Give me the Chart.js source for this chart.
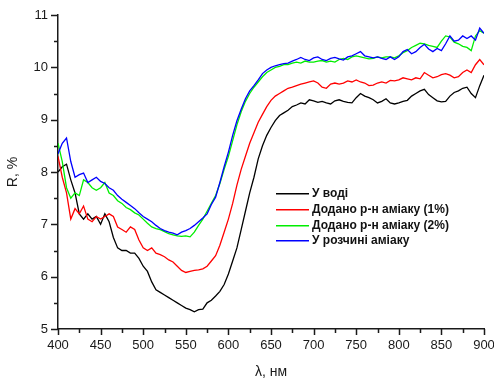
<!DOCTYPE html>
<html lang="uk">
<head>
    <meta charset="UTF-8">
    <title>Спектри відбиття</title>
    <script src="https://cdn.jsdelivr.net/npm/chart.js"></script>
    <style>
        html, body {
            margin: 0;
            padding: 0;
            background: #fff;
        }
        #wrap {
            width: 494px;
            height: 378px;
        }
    </style>
</head>
<body>
    <div id="wrap"><canvas id="spectra" width="494" height="378"></canvas></div>

    <script>
        // wavelength grid, nm
        const wavelengths = [
            400, 405, 410, 415, 420, 425, 430, 435, 440, 445,
            450, 455, 460, 465, 470, 475, 480, 485, 490, 495,
            500, 505, 510, 515, 520, 525, 530, 535, 540, 545,
            550, 555, 560, 565, 570, 575, 580, 585, 590, 595,
            600, 605, 610, 615, 620, 625, 630, 635, 640, 645,
            650, 655, 660, 665, 670, 675, 680, 685, 690, 695,
            700, 705, 710, 715, 720, 725, 730, 735, 740, 745,
            750, 755, 760, 765, 770, 775, 780, 785, 790, 795,
            800, 805, 810, 815, 820, 825, 830, 835, 840, 845,
            850, 855, 860, 865, 870, 875, 880, 885, 890, 895,
            900
        ];

        // R, %
        const inWater = [
            8.0, 8.1, 8.15, 7.85, 7.6, 7.2, 7.1, 7.2, 7.1, 7.15,
            7.0, 7.2, 7.05, 6.75, 6.55, 6.5, 6.5, 6.45, 6.45, 6.35,
            6.2, 6.1, 5.9, 5.75, 5.7, 5.65, 5.6, 5.55, 5.5, 5.45,
            5.4, 5.37, 5.33, 5.37, 5.38, 5.5, 5.55, 5.63, 5.72, 5.85,
            6.05, 6.3, 6.55, 6.9, 7.25, 7.6, 7.9, 8.25, 8.5, 8.7,
            8.85, 8.98, 9.08, 9.13, 9.18, 9.25, 9.28, 9.32, 9.3, 9.38,
            9.36, 9.33, 9.35, 9.32, 9.3, 9.36, 9.38, 9.35, 9.33, 9.32,
            9.42, 9.5, 9.45, 9.42, 9.38, 9.32, 9.35, 9.4, 9.32, 9.3,
            9.32, 9.35, 9.37, 9.45, 9.5, 9.55, 9.58, 9.48, 9.42, 9.36,
            9.34, 9.35, 9.45, 9.52, 9.55, 9.6, 9.62, 9.5, 9.42, 9.65,
            9.85
        ];
        const ammonia1 = [
            8.3, 7.9, 7.6, 7.1, 7.3, 7.2, 7.35, 7.1, 7.05, 7.15,
            7.1, 7.15, 7.2, 7.15, 6.95, 6.9, 6.85, 6.95, 6.9, 6.7,
            6.55, 6.5, 6.55, 6.45, 6.42, 6.38, 6.32, 6.28, 6.2, 6.12,
            6.08, 6.1, 6.12, 6.13, 6.15, 6.2, 6.3, 6.4, 6.6, 6.85,
            7.1, 7.4, 7.75, 8.05, 8.3, 8.55, 8.75, 8.95, 9.1, 9.25,
            9.37, 9.45, 9.5, 9.55, 9.6, 9.62, 9.65, 9.68, 9.7, 9.72,
            9.74, 9.7, 9.62, 9.6, 9.68, 9.7, 9.68, 9.7, 9.74, 9.72,
            9.76, 9.72, 9.7, 9.65, 9.66, 9.7, 9.72, 9.7, 9.75, 9.74,
            9.76, 9.8, 9.78, 9.76, 9.8, 9.78, 9.9, 9.85, 9.8, 9.82,
            9.86, 9.88, 9.85, 9.8, 9.82, 9.9, 9.95, 9.9, 10.05, 10.15,
            10.05
        ];
        const ammonia2 = [
            8.55, 8.2, 7.7, 7.5, 7.6, 7.55, 7.85, 7.8, 7.7, 7.65,
            7.7, 7.8, 7.6, 7.55, 7.45, 7.4, 7.32, 7.28, 7.22, 7.18,
            7.1, 7.02, 6.95, 6.92, 6.9, 6.86, 6.82, 6.8, 6.78, 6.77,
            6.78, 6.76, 6.85, 6.98, 7.1, 7.25, 7.4, 7.55, 7.78, 8.05,
            8.3, 8.6, 8.9, 9.15, 9.35, 9.5, 9.62, 9.72, 9.82, 9.9,
            9.95, 10.0, 10.02, 10.05, 10.05, 10.08, 10.1, 10.08, 10.12, 10.1,
            10.1, 10.12, 10.13, 10.1, 10.12, 10.1, 10.15, 10.17, 10.15, 10.2,
            10.22, 10.2, 10.18, 10.16, 10.17, 10.2, 10.18, 10.2, 10.2, 10.18,
            10.22, 10.28, 10.32, 10.38, 10.42, 10.46, 10.45, 10.42, 10.4, 10.38,
            10.5, 10.6, 10.58, 10.48, 10.45, 10.4, 10.38, 10.32, 10.6, 10.7,
            10.65
        ];
        const inSolution = [
            8.35, 8.55, 8.65, 8.2, 7.9, 7.95, 7.98, 7.8, 7.85, 7.9,
            7.82, 7.78, 7.7, 7.65, 7.55, 7.48, 7.42, 7.36, 7.3, 7.22,
            7.15, 7.1, 7.05, 6.98, 6.92, 6.88, 6.85, 6.83, 6.8, 6.85,
            6.88, 6.92, 6.98, 7.05, 7.12, 7.2, 7.38, 7.52, 7.8, 8.1,
            8.38, 8.7, 8.98, 9.2, 9.4, 9.55, 9.65, 9.76, 9.88, 9.95,
            10.0, 10.03, 10.05, 10.07, 10.08, 10.12, 10.15, 10.19, 10.15, 10.13,
            10.18, 10.2, 10.15, 10.13, 10.17, 10.19, 10.16, 10.14, 10.2, 10.22,
            10.26, 10.3, 10.22, 10.2, 10.18, 10.2, 10.17, 10.15, 10.2, 10.15,
            10.2, 10.3, 10.34, 10.26, 10.3, 10.38, 10.44, 10.35, 10.3, 10.36,
            10.32, 10.45, 10.6, 10.5, 10.52, 10.6, 10.55, 10.6, 10.52, 10.75,
            10.65
        ];

        const seriesNames = ['У воді', 'Додано р-н аміаку (1%)', 'Додано р-н аміаку (2%)', 'У розчині аміаку'];
        const seriesColors = ['#000000', '#ff0000', '#00ee00', '#0000ff'];
        const seriesValues = [inWater, ammonia1, ammonia2, inSolution];

        const FONT = 'Arial, "Liberation Sans", sans-serif';
        const AXIS = '#1a1a1a';

        // outward major + minor ticks (Chart.js has no minor ticks)
        const axisTicks = {
            id: 'axisTicks',
            afterDraw(chart) {
                const { ctx, scales: { x, y } } = chart;
                ctx.save();
                ctx.strokeStyle = AXIS;
                ctx.lineWidth = 1.5;
                ctx.beginPath();
                for (let v = x.min; v <= x.max; v += 25) {
                    const px = Math.round(x.getPixelForValue(v)) + 0.5;
                    const len = v % 50 === 0 ? 6 : 4;
                    ctx.moveTo(px, x.top);
                    ctx.lineTo(px, x.top + len);
                }
                for (let v = y.min; v <= y.max; v += 0.5) {
                    const py = Math.round(y.getPixelForValue(v)) + 0.5;
                    const len = v % 1 === 0 ? 7 : 4;
                    ctx.moveTo(y.right, py);
                    ctx.lineTo(y.right - len, py);
                }
                ctx.stroke();
                ctx.restore();
            }
        };

        // legend box inside the plot
        const innerLegend = {
            id: 'innerLegend',
            afterDraw(chart) {
                const ctx = chart.ctx;
                const x0 = 276, tx = 312;
                const rows = [193, 209, 225, 240];
                ctx.save();
                ctx.font = 'bold 12px ' + FONT;
                ctx.textBaseline = 'middle';
                seriesNames.forEach((name, i) => {
                    ctx.fillStyle = seriesColors[i];
                    ctx.fillRect(x0, rows[i], 33, 1.5);
                    ctx.fillStyle = '#111';
                    ctx.fillText(name, tx, rows[i] + 1);
                });
                ctx.restore();
            }
        };

        // drop the label-overflow padding so the axes land where the original has them
        function noOverflow(scale) {
            scale.paddingLeft = 0;
            scale.paddingRight = 0;
            scale.paddingTop = 0;
            scale.paddingBottom = 0;
        }

        const datasets = seriesValues.map((vals, i) => ({
            label: seriesNames[i],
            data: wavelengths.map((w, j) => ({ x: w, y: vals[j] })),
            borderColor: seriesColors[i],
            borderWidth: 1.3,
            pointRadius: 0,
            tension: 0,
            fill: false,
            order: 3 - i
        }));

        new Chart(document.getElementById('spectra').getContext('2d'), {
            type: 'line',
            data: { datasets: datasets },
            options: {
                responsive: false,
                animation: false,
                events: [],
                layout: {
                    padding: { top: 15, right: 10, left: 0, bottom: 0 }
                },
                plugins: {
                    legend: { display: false },
                    tooltip: { enabled: false }
                },
                scales: {
                    x: {
                        type: 'linear',
                        min: 400,
                        max: 900,
                        ticks: {
                            stepSize: 50,
                            color: AXIS,
                            padding: 9,
                            maxRotation: 0,
                            font: { family: FONT, size: 13 }
                        },
                        grid: { drawOnChartArea: false, drawTicks: false },
                        border: { color: AXIS, width: 1.5 },
                        title: {
                            display: true,
                            text: 'λ, нм',
                            color: AXIS,
                            font: { family: FONT, size: 14 },
                            padding: { top: 0, bottom: -3 }
                        },
                        afterFit: scale => {
                            scale.height = 49;
                            noOverflow(scale);
                        }
                    },
                    y: {
                        min: 5,
                        max: 11,
                        ticks: {
                            stepSize: 1,
                            color: AXIS,
                            padding: 10,
                            font: { family: FONT, size: 13 }
                        },
                        grid: { drawOnChartArea: false, drawTicks: false },
                        border: { color: AXIS, width: 1.5 },
                        title: {
                            display: true,
                            text: 'R, %',
                            color: AXIS,
                            font: { family: FONT, size: 14 },
                            padding: { top: 5, bottom: 0 }
                        },
                        afterFit: scale => {
                            scale.width = 58;
                            noOverflow(scale);
                        }
                    }
                }
            },
            plugins: [axisTicks, innerLegend]
        });
    </script>
</body>
</html>
